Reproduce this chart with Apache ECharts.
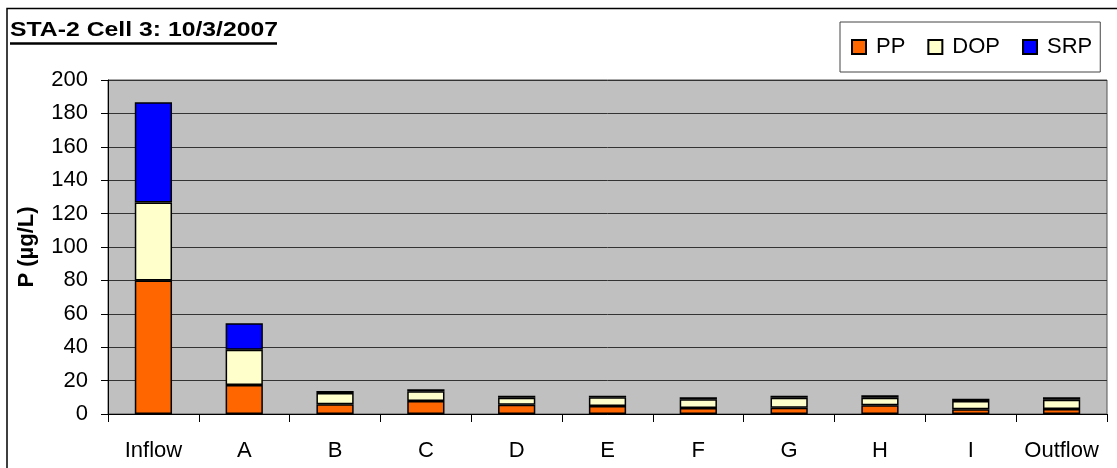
<!DOCTYPE html>
<html>
<head>
<meta charset="utf-8">
<script src="https://cdn.jsdelivr.net/npm/echarts@6/dist/echarts.min.js"></script>
<style>
  html, body { margin: 0; padding: 0; background: #fff; }
  #chart { width: 1117px; height: 468px; }
</style>
</head>
<body>
<div id="chart"></div>
<script>
// Phosphorus fractions by sampling station (µg/L)
const categories = ['Inflow', 'A', 'B', 'C', 'D', 'E', 'F', 'G', 'H', 'I', 'Outflow'];
const ppValues  = [80, 17.4, 5.8, 7.8, 5.6, 4.8, 3.6, 3.8, 5.2, 2.8, 3.0];
const dopValues = [46.7, 21, 6.8, 5.8, 4.2, 5.2, 5.2, 6.0, 4.6, 5.0, 5.6];
const srpValues = [60, 16, 1.2, 1.2, 1.2, 1.0, 1.2, 1.2, 1.4, 1.4, 1.4];
const yTicks = { min: 0, max: 200, interval: 20 };
const chartTitle = 'STA-2 Cell 3: 10/3/2007';

const chart = echarts.init(document.getElementById('chart'), null, { renderer: 'canvas' });
const font = '"Liberation Sans", Arial, sans-serif';

const barStyle = (color) => ({ color: color, borderColor: '#000', borderWidth: 1.5 });

chart.setOption({
  animation: false,
  backgroundColor: '#fff',
  textStyle: { fontFamily: font },
  legend: {
    left: 840, top: 22,
    width: 267,
    itemWidth: 14, itemHeight: 14, itemGap: 22,
    borderColor: '#444', borderWidth: 1,
    padding: [14, 8, 14, 11],
    textStyle: { fontFamily: font, fontSize: 22, color: '#000', padding: [0, 0, 0, 5] },
    data: [
      { name: 'PP', icon: 'rect' },
      { name: 'DOP', icon: 'rect' },
      { name: 'SRP', icon: 'rect' }
    ]
  },
  graphic: [
    { type: 'rect', shape: { x: 7, y: 8.5, width: 1200, height: 600 },
      style: { fill: 'none', stroke: '#000', lineWidth: 1.5 }, silent: true },
    { type: 'text', x: 10, y: 20, scaleX: 1.18,
      style: { text: chartTitle, font: 'bold 21px "Liberation Sans", Arial, sans-serif',
               fill: '#000', verticalAlign: 'top', align: 'left' }, silent: true },
    { type: 'line', shape: { x1: 10, y1: 43.5, x2: 277, y2: 43.5 },
      style: { stroke: '#000', lineWidth: 2.5 }, silent: true }
  ],
  grid: {
    left: 108, right: 10, top: 80, bottom: 54,
    show: true, backgroundColor: '#C0C0C0', borderColor: '#555', borderWidth: 1
  },
  xAxis: {
    type: 'category',
    data: categories,
    axisLine: { lineStyle: { color: '#000', width: 1 } },
    axisTick: { show: true, interval: 0, length: 8, lineStyle: { color: '#000' } },
    axisLabel: { interval: 0, hideOverlap: false, fontFamily: font, fontSize: 22, color: '#000', margin: 26 }
  },
  yAxis: {
    type: 'value',
    min: yTicks.min, max: yTicks.max, interval: yTicks.interval,
    name: 'P (µg/L)',
    nameLocation: 'middle',
    nameGap: 70,
    nameTextStyle: { fontFamily: font, fontSize: 22, fontWeight: 'bold', color: '#000' },
    axisLine: { show: true, lineStyle: { color: '#000' } },
    axisTick: { show: true, length: 7, lineStyle: { color: '#000' } },
    axisLabel: { fontFamily: font, fontSize: 22, color: '#000', margin: 20 },
    splitLine: { show: true, lineStyle: { color: '#333', width: 1 } }
  },
  series: [
    { name: 'PP', type: 'bar', stack: 'p', data: ppValues, barWidth: '41%', itemStyle: barStyle('#FF6600') },
    { name: 'DOP', type: 'bar', stack: 'p', data: dopValues, barWidth: '41%', itemStyle: barStyle('#FFFFCC') },
    { name: 'SRP', type: 'bar', stack: 'p', data: srpValues, barWidth: '41%', itemStyle: barStyle('#0000FF') }
  ]
});
</script>
</body>
</html>
